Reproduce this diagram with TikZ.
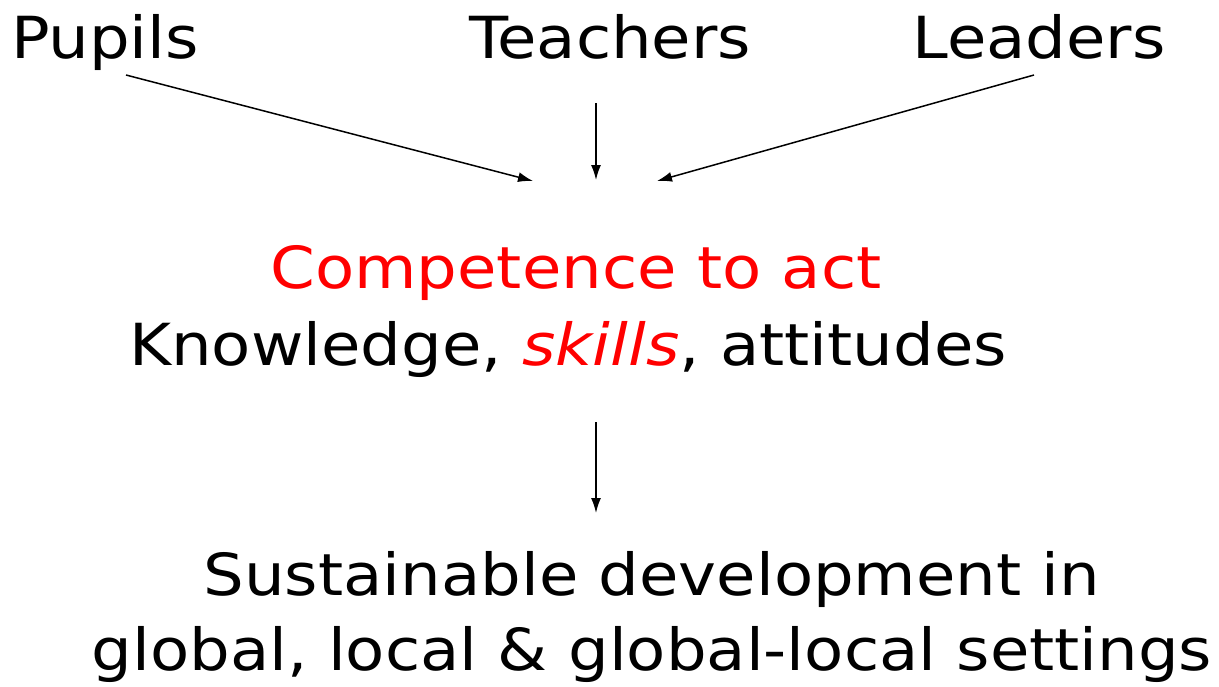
\documentclass[tikz,border=0pt]{standalone}
\usepackage{fontspec}
\setmainfont[FakeStretch=1.105]{DejaVu Sans}
\usetikzlibrary{arrows.meta}
\begin{document}
\begin{tikzpicture}[x=1pt,y=-1pt,
  lbl/.style={anchor=base,inner sep=0pt,font=\fontsize{58}{70}\selectfont},
  arr/.style={-{Latex[length=15pt,width=10pt]},line width=1.5pt}]
\useasboundingbox (0,0) rectangle (1219,686);
\node[lbl] (pupils) at (105,58) {Pupils};
\node[lbl] (teachers) at (610,58) {Teachers};
\node[lbl] (leaders) at (1039,58) {Leaders};
\node[lbl,text=red] (comp) at (576,288) {Competence to act};
\node[lbl] (know) at (568,365) {Knowledge, \textcolor{red}{\textit{skills}}, attitudes};
\node[lbl] (sd1) at (652,595) {Sustainable development in};
\node[lbl] (sd2) at (652,670) {global, local \& global-local settings};
\coordinate (p1) at (126,75);
\coordinate (p2) at (533,181);
\coordinate (t1) at (596,103);
\coordinate (t2) at (596,180);
\coordinate (l1) at (1034,75);
\coordinate (l2) at (657,181);
\coordinate (m1) at (596,422);
\coordinate (m2) at (596,513);
\draw[arr] (p1) -- (p2);
\draw[arr] (t1) -- (t2);
\draw[arr] (l1) -- (l2);
\draw[arr] (m1) -- (m2);
\end{tikzpicture}
\end{document}
